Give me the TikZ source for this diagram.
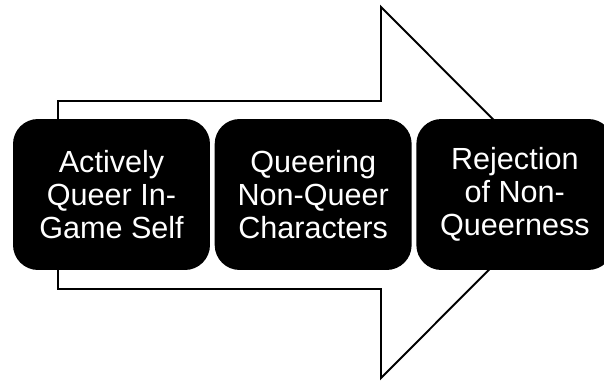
\documentclass[tikz,border=0pt]{standalone}
\usepackage{fontspec}
\setmainfont{Liberation Sans}
\usetikzlibrary{positioning}

\begin{document}
\begin{tikzpicture}[
        x=0.02cm, y=-0.02cm,
        stage/.style={fill=black, text=white, rounded corners=0.5cm, minimum width=3.94cm, minimum height=3.02cm, inner sep=0pt, align=center, font=\fontsize{17.4}{18.8}\selectfont},
        bigarrow/.style={draw=black, fill=white, line width=1.1pt, line join=miter}
    ]
        \useasboundingbox (0,0) rectangle (604,385);

        % Background arrow
        \draw[bigarrow] (58,101) -- (381,101) -- (381,7) -- (566,192.5) -- (381,378) -- (381,289) -- (58,289) -- cycle;

        % Stages
        \node[stage] (self) at (111.5,194.5) {Actively\\Queer In-\\Game Self};
        \node[stage, right=0.08cm of self] (others) {Queering\\Non-Queer\\Characters};
        \node[stage, right=0.08cm of others] (reject) {Rejection\\of Non-\\Queerness};
    \end{tikzpicture}
\end{document}
